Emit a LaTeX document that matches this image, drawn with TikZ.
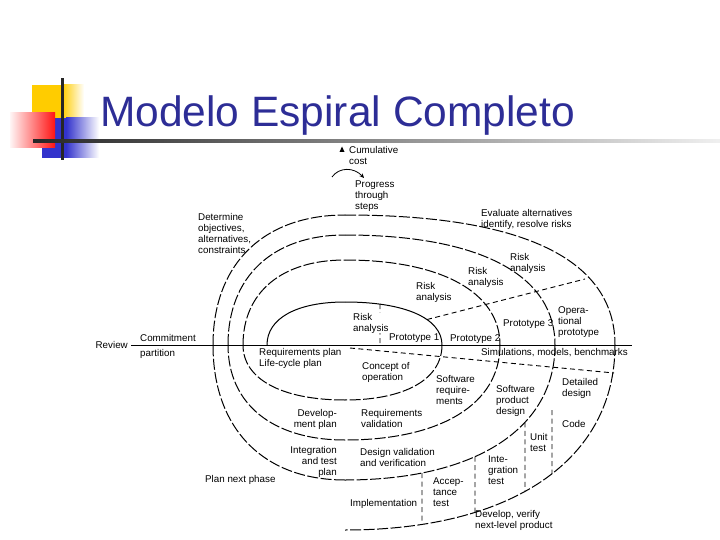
\documentclass[tikz,border=0pt]{standalone}
\usepackage{fontspec}
\setmainfont{Liberation Sans}
\usetikzlibrary{arrows.meta,intersections,calc}
\definecolor{titleblue}{RGB}{45,45,150}
\definecolor{logoyellow}{RGB}{255,204,0}
\definecolor{logoblue}{RGB}{51,51,204}
\definecolor{logored}{RGB}{255,20,20}
\def\kk{0.62}
\def\kc{0.64}
\def\kd{0.66}
\begin{document}
\begin{tikzpicture}[x=1pt,y=-1pt,
  lbl/.style={font=\fontsize{9.8}{11}\selectfont, inner sep=0pt, align=left, anchor=north west},
  lblr/.style={lbl, align=right, anchor=north east},
  spiral/.style={line width=1pt, dash pattern=on 11pt off 2.5pt},
  solidspiral/.style={line width=1pt},
  radial/.style={line width=0.9pt, dash pattern=on 5pt off 3.5pt}]
\useasboundingbox (0,0) rectangle (720,540);

% logo
\fill[logoyellow] (32,85) rectangle (62,118);
\shade[left color=logoyellow, right color=white] (62,85) rectangle (84,118);
\fill[logoblue] (42,118) rectangle (66,158);
\shade[left color=logoblue, right color=white] (66,118) rectangle (99,158);
\shade[left color=red!4, right color=logored] (10,113) rectangle (55,148);
\fill[black!85] (60.5,78) rectangle (63.5,160);
\shade[left color=black!85, right color=black!6] (33,140) rectangle (720,143);
\node[anchor=base west, inner sep=0pt, font=\fontsize{42.5}{50}\selectfont, text=titleblue] (title) at (100,127) {Modelo Espiral Completo};

% axis
\coordinate (axL) at (131,345);
\coordinate (axR) at (632,345);
\draw[line width=1pt] (axL) -- (axR);

% spiral, turn 1
\draw[solidspiral, name path=UL1] (267,345) .. controls (267,{345-\kk*43}) and ({345-\kk*78},302) .. (345,302);
\draw[solidspiral, name path=UR1] (345,302) .. controls ({345+\kk*97},302) and (442,{345-\kk*43}) .. (442,345);
\draw[spiral, name path=LR1] (442,345) .. controls (442,{345+\kk*55}) and ({345+\kk*97},400) .. (345,400);
\draw[spiral, name path=LL1] (345,400) .. controls ({345-\kk*102},400) and (243,{345+\kk*55}) .. (243,345);
% turn 2
\draw[spiral, name path=UL2] (243,345) .. controls (243,{345-\kk*85}) and ({345-\kk*102},260) .. (345,260);
\draw[spiral, name path=UR2] (345,260) .. controls ({345+\kk*155},260) and (500,{345-\kk*85}) .. (500,345);
\draw[spiral, name path=LR2] (500,345) .. controls (500,{345+\kk*95}) and ({345+\kk*155},440) .. (345,440);
\draw[spiral, name path=LL2] (345,440) .. controls ({345-\kk*117},440) and (228,{345+\kk*95}) .. (228,345);
% turn 3
\draw[spiral, name path=UL3] (228,345) .. controls (228,{345-\kk*110}) and ({345-\kk*117},235) .. (345,235);
\draw[spiral, name path=UR3] (345,235) .. controls ({345+\kc*210},235) and (555,{345-\kc*110}) .. (555,345);
\draw[spiral, name path=LR3] (555,345) .. controls (555,{345+\kk*135}) and ({345+\kk*210},480) .. (345,480);
\draw[spiral, name path=LL3] (345,480) .. controls ({345-\kk*132},480) and (213,{345+\kk*135}) .. (213,345);
% turn 4
\draw[spiral, name path=UL4] (213,345) .. controls (213,{345-\kk*130}) and ({345-\kk*132},215) .. (345,215);
\draw[spiral, name path=UR4] (345,215) .. controls ({345+\kd*270},215) and (615,{345-\kd*130}) .. (615,345);
\draw[spiral, name path=LR4] (615,345) .. controls (615,{345+\kk*185}) and ({345+\kk*270},530) .. (345,530);

% helper verticals
\path[name path=v0] (380,250) -- (380,345);
\path[name path=v5] (427,250) -- (427,345);
\path[name path=v1] (422,340) -- (422,540);
\path[name path=v2] (475,340) -- (475,540);
\path[name path=v3] (525,340) -- (525,540);
\path[name path=v4] (552,340) -- (552,540);
\path[name intersections={of=UR1 and v0, by=r0}];
\path[name intersections={of=UR1 and v5, by=r5}];
\path[name intersections={of=LR3 and v1, by=a1}];
\path[name intersections={of=LR4 and v1, by=b1}];
\path[name intersections={of=LR3 and v2, by=a2}];
\path[name intersections={of=LR4 and v2, by=b2}];
\path[name intersections={of=LR3 and v3, by=a3}];
\path[name intersections={of=LR4 and v3, by=b3}];
\path[name intersections={of=LR4 and v4, by=b4}];
\coordinate (a4) at (552,410);
\coordinate (r0b) at (380,345);
\coordinate (rEnd) at (585,279);
\coordinate (simL) at (350,348);
\coordinate (simR) at (614,373);

\draw[radial] (r0) -- (r0b);
\draw[radial] (r5) -- (rEnd);
\draw[radial] (simL) -- (simR);
\draw[radial] (a1) -- (b1);
\draw[radial] (a2) -- (b2);
\draw[radial] (a3) -- (b3);
\draw[radial] (a4) -- (b4);

% cumulative cost arrow and progress arrow
\fill (339.5,152) -- (344.5,152) -- (342,146.5) -- cycle;
\coordinate (pgA) at (332,177);
\coordinate (pgB) at (364,178);
\draw[line width=0.8pt, -{Stealth[length=4.5pt,width=4pt]}] (pgA) .. controls (339,167) and (354,167) .. (pgB);

% labels
\node[lbl] (cum) at (349,146) {Cumulative\\cost};
\node[lbl] (prog) at (355,181) {Progress\\through\\steps};
\node[lbl] (det) at (198,213) {Determine\\objectives,\\alternatives,\\constraints};
\node[lbl] (eval) at (481,209) {Evaluate alternatives\\identify, resolve risks};
\node[lbl] (ra4) at (510,253) {Risk\\analysis};
\node[lbl] (ra3) at (468,267) {Risk\\analysis};
\node[lbl] (ra2) at (416,282) {Risk\\analysis};
\node[lbl, fill=white] (ra1) at (353,313) {Risk\\analysis};
\node[lbl] (p1) at (389,334) {Prototype 1};
\node[lbl] (p2) at (450,334) {Prototype 2};
\node[lbl] (p3) at (503,319) {Prototype 3};
\node[lbl] (op) at (558,306) {Opera-\\tional\\prototype};
\node[lbl, anchor=east] (review) at (128,345) {Review};
\node[lbl] (commit) at (140,334) {Commitment};
\node[lbl] (part) at (140,349) {partition};
\node[lbl] (reqplan) at (259,348) {Requirements plan\\Life-cycle plan};
\node[lbl] (sim) at (481,348) {Simulations, models, benchmarks};
\node[lbl] (conc) at (362,362) {Concept of\\operation};
\node[lbl] (swreq) at (436,375) {Software\\require-\\ments};
\node[lbl] (swpd) at (496,385) {Software\\product\\design};
\node[lbl] (dd) at (562,378) {Detailed\\design};
\node[lbl] (code) at (562,420) {Code};
\node[lbl] (unit) at (530,433) {Unit\\test};
\node[lbl] (integ) at (488,456) {Inte-\\gration\\test};
\node[lbl] (accep) at (433,478) {Accep-\\tance\\test};
\node[lbl] (impl) at (350,499) {Implementation};
\node[lbl] (devver) at (475,510) {Develop, verify\\next-level product};
\node[lbl] (plannext) at (205,475) {Plan next phase};
\node[lblr] (intplan) at (337,446) {Integration\\and test\\plan};
\node[lbl] (desval) at (360,448) {Design validation\\and verification};
\node[lblr] (devplan) at (337,409) {Develop-\\ment plan};
\node[lbl] (reqval) at (361,409) {Requirements\\validation};
\end{tikzpicture}
\end{document}
